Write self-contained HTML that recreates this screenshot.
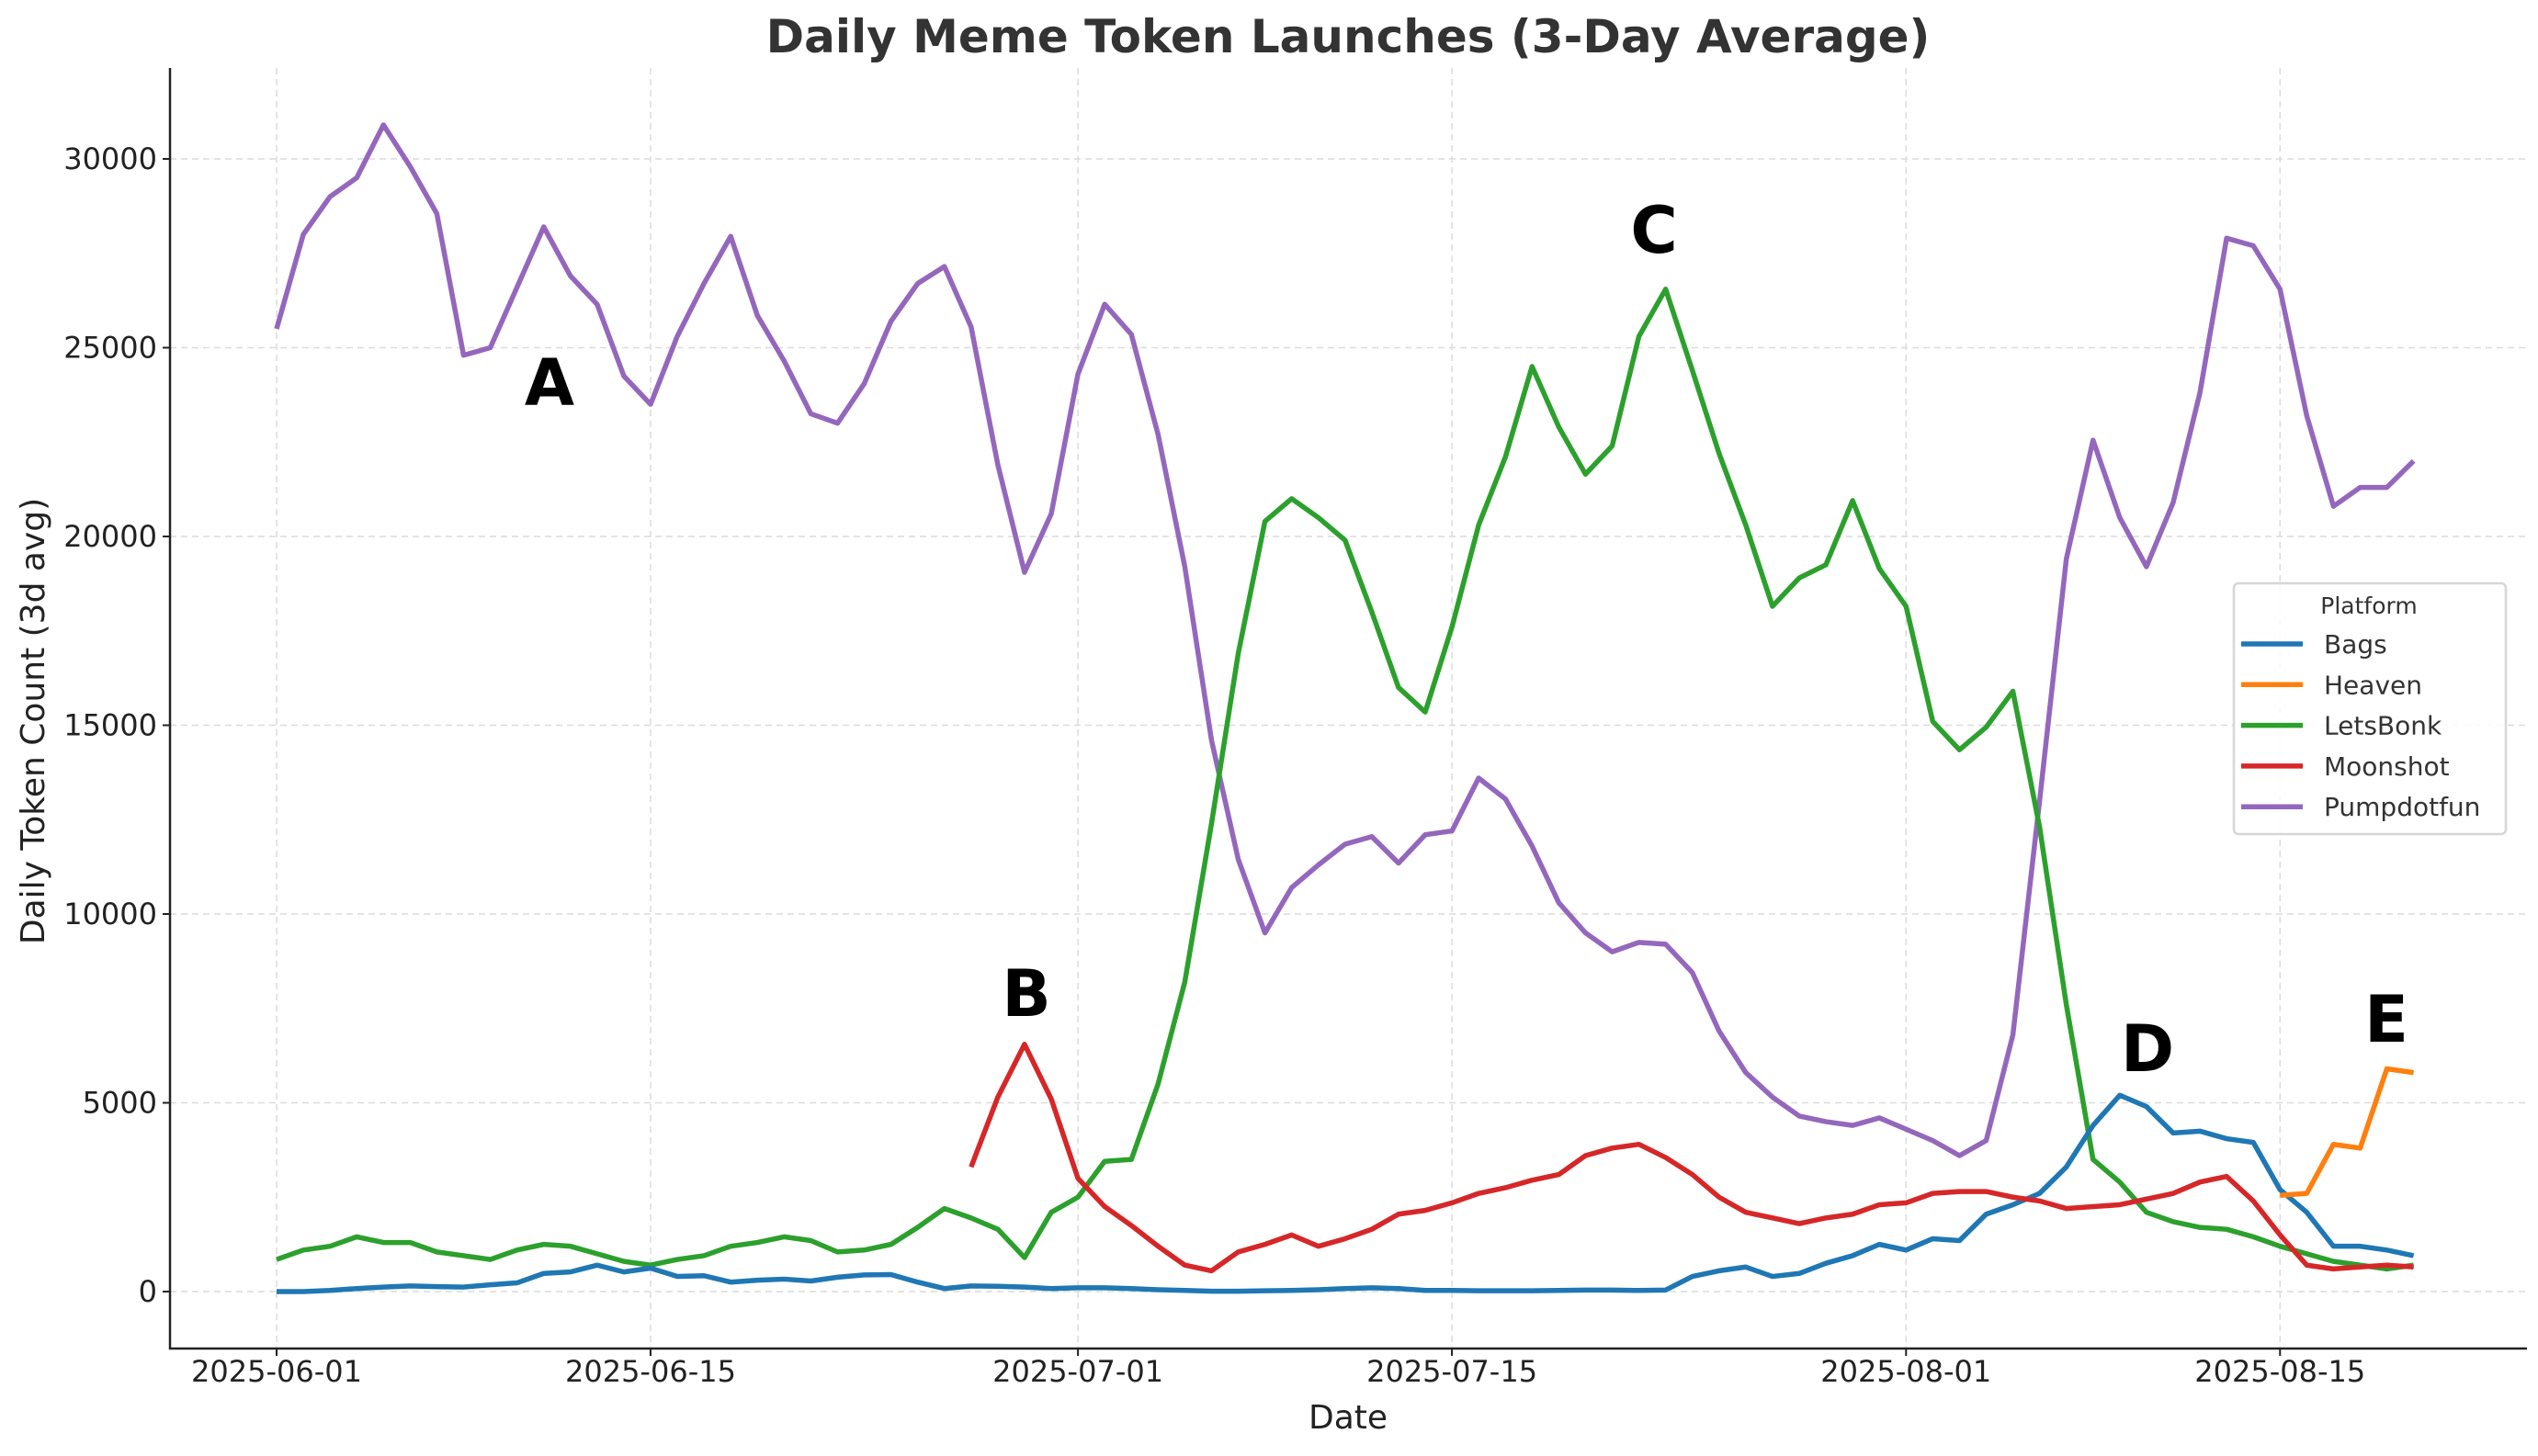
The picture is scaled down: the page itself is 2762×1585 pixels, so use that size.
<!DOCTYPE html>
<html><head><meta charset="utf-8"><style>
body{margin:0;background:#fff}
svg text{font-family:"DejaVu Sans","Liberation Sans",sans-serif}
</style></head><body>
<svg id="chart" width="2762" height="1580" viewBox="0 0 2762 1580" xmlns="http://www.w3.org/2000/svg">
<rect width="2762" height="1580" fill="#fff"/>
<text x="1467" y="57" text-anchor="middle" font-size="50" font-weight="bold" fill="#333">Daily Meme Token Launches (3-Day Average)</text>
<g id="grid"></g>
<g id="series"></g>
<g id="axes"></g>
<text x="1467" y="1555" text-anchor="middle" font-size="36" fill="#222">Date</text>
<text transform="translate(48,785) rotate(-90)" text-anchor="middle" font-size="36" fill="#222">Daily Token Count (3d avg)</text>
<g font-size="70" font-weight="bold" fill="#000" text-anchor="middle">
<text x="598" y="441">A</text>
<text x="1117" y="1106">B</text>
<text x="1800" y="275">C</text>
<text x="2337" y="1166">D</text>
<text x="2597" y="1134">E</text>
</g>
<g>
<rect x="2431" y="635" width="296" height="273" rx="5" fill="#fff" fill-opacity="0.85" stroke="#d6d6d6" stroke-width="2.5"/>
<text x="2578" y="668" text-anchor="middle" font-size="25" fill="#333">Platform</text>
<g id="legend-items"></g>
</g>
</svg>
<script>
const categories = Array.from({length:81},(_,i)=>i); // day offsets from 2025-06-01
const seriesNames = ["Bags","Heaven","LetsBonk","Moonshot","Pumpdotfun"];
const seriesColors = ["#1f77b4","#ff7f0e","#2ca02c","#d62728","#9467bd"];
const bagsValues = [0,0,30,80,120,150,130,120,180,230,480,520,700,520,620,400,420,250,300,330,280,380,440,450,250,80,150,140,120,80,100,100,80,50,30,10,10,20,30,50,80,100,80,30,30,20,20,20,30,40,40,30,40,400,550,650,400,480,750,950,1250,1100,1400,1350,2050,2300,2600,3300,4400,5200,4900,4200,4250,4050,3950,2700,2100,1200,1200,1100,950];
const heavenStart = 75;
const heavenValues = [2550,2600,3900,3800,5900,5800];
const letsbonkValues = [850,1100,1200,1450,1300,1300,1050,950,850,1100,1250,1200,1000,800,700,850,950,1200,1300,1450,1350,1050,1100,1250,1700,2200,1950,1650,900,2100,2500,3450,3500,5500,8200,12400,16900,20400,21000,20500,19900,18000,16000,15350,17600,20300,22100,24500,22900,21650,22400,25300,26550,24400,22200,20300,18150,18900,19250,20950,19150,18150,15100,14350,14950,15900,12300,7600,3500,2900,2100,1850,1700,1650,1450,1200,1000,800,700,600,700];
const moonshotStart = 26;
const moonshotValues = [3300,5150,6550,5100,3000,2250,1750,1200,700,550,1050,1250,1500,1200,1400,1650,2050,2150,2350,2600,2750,2950,3100,3600,3800,3900,3550,3100,2500,2100,1950,1800,1950,2050,2300,2350,2600,2650,2650,2500,2400,2200,2250,2300,2450,2600,2900,3050,2400,1500,700,600,650,700,650];
const pumpValues = [25500,28000,29000,29500,30900,29800,28550,24800,25000,26600,28200,26900,26150,24250,23500,25300,26700,27950,25850,24650,23250,23000,24050,25700,26700,27150,25550,21900,19050,20600,24300,26150,25350,22700,19200,14600,11450,9500,10700,11300,11850,12050,11350,12100,12200,13600,13050,11800,10300,9500,9000,9250,9200,8450,6900,5800,5150,4650,4500,4400,4600,4300,4000,3600,4000,6800,13000,19400,22550,20500,19200,20900,23800,27900,27700,26550,23200,20800,21300,21300,22000];
const xTickDays = [0,14,30,44,61,75];
const xTickLabels = ["2025-06-01","2025-06-15","2025-07-01","2025-07-15","2025-08-01","2025-08-15"];
const yTickValues = [0,5000,10000,15000,20000,25000,30000];
const yTickLabels = ["0","5000","10000","15000","20000","25000","30000"];

const NS="http://www.w3.org/2000/svg";
const L=185,R=2750,T=74,B=1468;
const xScale=d=>301+d*29.07;
const yScale=v=>1406-v*0.0411;
function mk(tag,attrs,parent){const e=document.createElementNS(NS,tag);for(const k in attrs)e.setAttribute(k,attrs[k]);parent.appendChild(e);return e;}
const grid=document.getElementById('grid'),axes=document.getElementById('axes'),ser=document.getElementById('series');
xTickDays.forEach((d,i)=>{
  const x=xScale(d);
  const g=mk('line',{x1:x,x2:x,y1:T,y2:B,stroke:'#dcdcdc','stroke-width':1.5,'stroke-dasharray':'7,5'},grid);
  
  
  const t=mk('line',{x1:x,x2:x,y1:B,y2:B+8,stroke:'#222','stroke-width':2},axes);
  
  
  const lb=mk('text',{x:x,y:B+36,'text-anchor':'middle','font-size':32,fill:'#222'},axes);
  lb.textContent=xTickLabels[i];
  
  
});
yTickValues.forEach((v,i)=>{
  const y=yScale(v);
  const g=mk('line',{x1:L,x2:R,y1:y,y2:y,stroke:'#dcdcdc','stroke-width':1.5,'stroke-dasharray':'7,5'},grid);
  
  
  const t=mk('line',{x1:L-8,x2:L,y1:y,y2:y,stroke:'#222','stroke-width':2},axes);
  
  
  const lb=mk('text',{x:L-14,y:y+11,'text-anchor':'end','font-size':32,fill:'#222'},axes);
  lb.textContent=yTickLabels[i];
  
  
});
const ax=mk('path',{d:`M${L},${T}V${B}H${R}`,fill:'none',stroke:'#222','stroke-width':2.5},axes);


function pts(vals,start){return vals.map((v,i)=>xScale(categories[start+i])+','+yScale(v)).join(' ');}
const data=[[bagsValues,0],[heavenValues,heavenStart],[letsbonkValues,0],[moonshotValues,moonshotStart],[pumpValues,0]];
const order=[4,2,0,3,1];
order.forEach(k=>{
  const p=mk('polyline',{points:pts(data[k][0],data[k][1]),fill:'none',stroke:seriesColors[k],'stroke-width':5.5,'stroke-linejoin':'round'},ser);
  
  
});
const li=document.getElementById('legend-items');
seriesNames.forEach((n,i)=>{
  const y=701+i*44.3;
  const l=mk('line',{x1:2439,x2:2506,y1:y,y2:y,stroke:seriesColors[i],'stroke-width':5.5},li);
  
  
  const t=mk('text',{x:2529,y:y+10,'font-size':28,fill:'#333'},li);
  t.textContent=n;
  
  
});
</script>
</body></html>
